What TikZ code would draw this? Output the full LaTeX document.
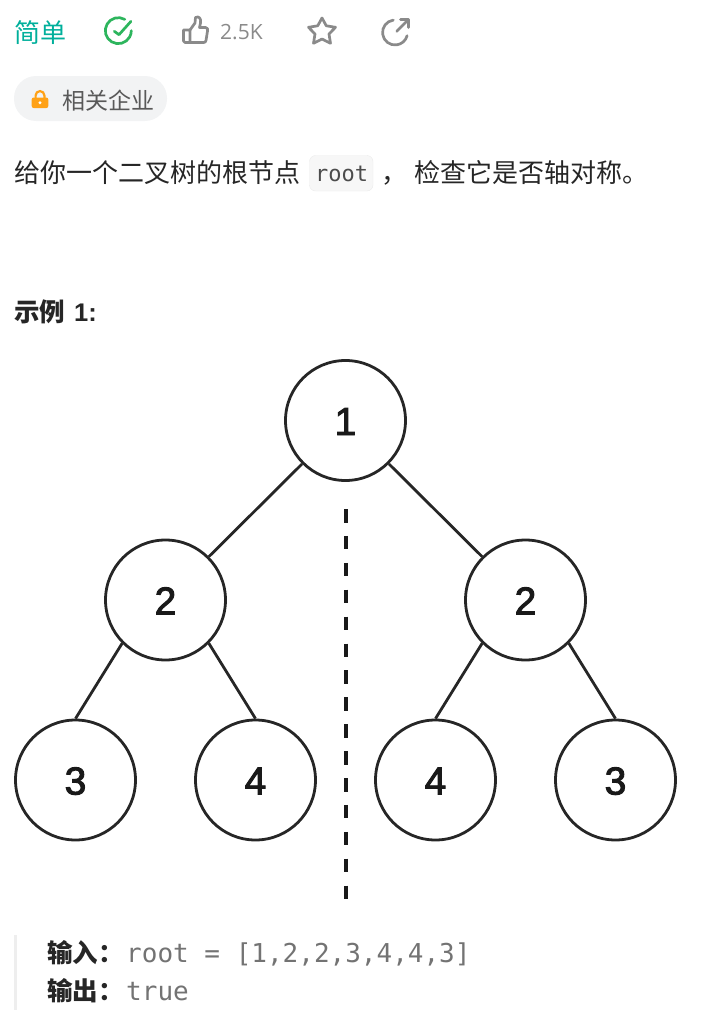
\documentclass[tikz,border=0pt]{standalone}
\usepackage{fontspec}
\setmainfont{Liberation Sans}
\newfontfamily\cjk{Noto Sans CJK SC}
\newfontfamily\uifont{Open Sans}
\newfontfamily\codefont{DejaVu Sans Mono}
\newfontfamily\digitfont[FakeBold=2.4]{Liberation Sans}
\definecolor{easygreen}{HTML}{00AF9B}
\definecolor{donegreen}{HTML}{2DB55D}
\definecolor{icongrey}{HTML}{8A8A8A}
\definecolor{lockorange}{HTML}{FFA116}
\definecolor{pillgrey}{HTML}{F2F3F4}
\definecolor{bodyblack}{HTML}{262626}
\definecolor{chipgrey}{HTML}{F7F7F7}
\definecolor{barcolor}{HTML}{EEEEEE}
\tikzset{
    treenode/.style={draw=black!85,line width=2.8pt,circle,minimum size=120pt,inner sep=0pt,text height=29pt,text depth=0pt,font=\fontsize{39}{39}\selectfont\digitfont,text=black!90},
    treeedge/.style={draw=black!85,line width=2.8pt},
    textline/.style={anchor=base west,inner sep=0pt,text=bodyblack},
    icon/.style={draw=icongrey,line width=2.7pt,line join=round,line cap=round}
}
\begin{document}
\begin{tikzpicture}[x=1pt,y=-1pt]
            \useasboundingbox (0,0) rectangle (705,1033);
            % top row
            \node[textline,text=easygreen] (level) at (14,43) {\fontsize{26}{26}\selectfont\cjk 简单};
            \draw[donegreen,line width=2.7pt,line cap=round] (124.8,19.4) arc (-60:-360:13);
            \draw[donegreen,line width=2.7pt,line cap=round,line join=round] (114.3,31.3) -- (119,34.7) -- (131,21.3);
            \draw[icon] (183.5,30) -- (190,30) -- (190,42.5) -- (185,42.5) .. controls (184,42.5) and (183.5,42) .. (183.5,41) -- cycle;
            \draw[icon] (190,30) -- (195,23) -- (195.5,17.5) .. controls (199,15.5) and (201.5,19) .. (200.5,23) -- (199.5,27.5) -- (205.5,27.5) .. controls (207.5,27.5) and (208,29) .. (207.5,31) -- (206,40.5) .. controls (205.5,42) and (205,42.5) .. (203.5,42.5) -- (190,42.5);
            \node[textline,text=icongrey] (likes) at (220,40) {\fontsize{21}{21}\selectfont\uifont 2.5K};
            \draw[icon] (322,18) -- (326.3,25.8) -- (335.5,27.3) -- (329,34) -- (330.5,43.3) -- (322,39) -- (313.5,43.3) -- (315,34) -- (308.5,27.3) -- (317.7,25.8) -- cycle;
            \draw[icon] (393.3,20.1) arc (-98:-345:12.5);
            \draw[icon] (396.7,31.3) -- (408.3,19.7);
            \draw[icon] (400.5,19.7) -- (408.3,19.7) -- (408.3,27.5);
            % tag
            \fill[pillgrey,rounded corners=22pt] (14,76) rectangle (167,121);
            \fill[lockorange,rounded corners=2pt] (31.7,97.5) rectangle (48.3,108);
            \draw[lockorange,line width=2.2pt] (35.6,98) -- (35.6,95.5) arc (180:360:4.4) -- (44.4,98);
            \fill[white] (40,102.7) circle (1.6);
            \node[textline,text=black!65] (tag) at (62,109) {\fontsize{23}{23}\selectfont\cjk 相关企业};
            % question
            \node[textline] (textA) at (14,182) {\fontsize{26}{26}\selectfont\cjk 给你一个二叉树的根节点};
            \filldraw[draw=black!8,fill=chipgrey,rounded corners=6pt] (309.5,155.5) rectangle (373,191);
            \node[textline,text=black!70] (rootword) at (315,181) {\fontsize{22}{22}\selectfont\codefont root};
            \node[textline] (textB) at (381,182) {\fontsize{26}{26}\selectfont\cjk ，};
            \node[textline] (textC) at (414,182) {\fontsize{26}{26}\selectfont\cjk 检查它是否轴对称。};
            \node[textline] (example) at (14,321) {\fontsize{25.5}{25.5}\selectfont\cjk\bfseries 示例\hspace{9pt}\rmfamily\bfseries 1:};
            % tree
            \node[treenode] (n1) at (345.5,420.5) {1};
            \node[treenode] (n2) at (165.5,600) {2};
            \node[treenode] (n3) at (525.5,600) {2};
            \node[treenode] (n4) at (75.5,780) {3};
            \node[treenode] (n5) at (255.5,780) {4};
            \node[treenode] (n6) at (435.5,780) {4};
            \node[treenode] (n7) at (615.5,780) {3};
            \draw[treeedge] (n1.south west) -- (n2.north east);
            \draw[treeedge] (n1.south east) -- (n3.north west);
            \draw[treeedge] (n2.south west) -- (n4.north);
            \draw[treeedge] (n2.south east) -- (n5.north);
            \draw[treeedge] (n3.south west) -- (n6.north);
            \draw[treeedge] (n3.south east) -- (n7.north);
            \coordinate (axistop) at (345.7,509);
            \coordinate (axisbottom) at (345.7,901);
            \draw[black!90,line width=4.4pt,dash pattern=on 13.5pt off 13.4pt] (axistop) -- (axisbottom);
            % result
            \fill[barcolor] (14,935) rectangle (17,1010);
            \node[textline] (inputline) at (47,962) {\fontsize{25.5}{25.5}\selectfont\cjk\bfseries 输入：};
            \node[textline,text=black!55] (inputvalue) at (126,962) {\fontsize{26}{26}\selectfont\codefont root = [1,2,2,3,4,4,3]};
            \node[textline] (outputline) at (47,1000) {\fontsize{25.5}{25.5}\selectfont\cjk\bfseries 输出：};
            \node[textline,text=black!55] (outputvalue) at (126,1000) {\fontsize{26}{26}\selectfont\codefont true};
\end{tikzpicture}
\end{document}
